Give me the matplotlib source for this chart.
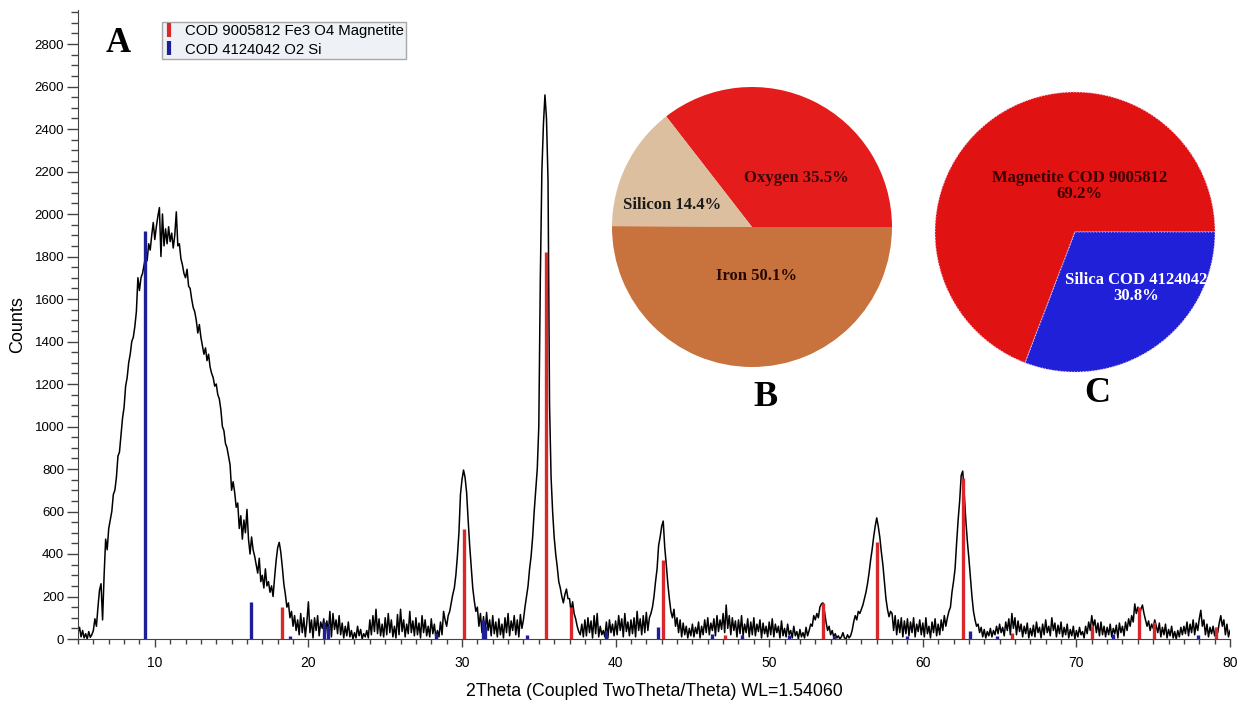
import matplotlib
matplotlib.use("Agg")
import matplotlib.pyplot as plt
from matplotlib.lines import Line2D
from matplotlib.ticker import MultipleLocator
import numpy as np

plt.rcParams["font.family"] = ["Liberation Sans", "DejaVu Sans"]

W, H = 1237, 709

# XRD scan, 2theta 5-80 deg, step 0.1 deg (one row per degree)
SCAN_START, SCAN_STEP = 5.0, 0.1
COUNTS = [
    30, 55, 10, 40, 5, 25, 0, 35, 8, 20,                          # 5
    40, 95, 60, 150, 230, 260, 90, 300, 470, 420,                 # 6
    520, 560, 600, 680, 700, 760, 860, 880, 960, 1040,            # 7
    1090, 1190, 1230, 1300, 1340, 1400, 1420, 1470, 1540, 1700,   # 8
    1640, 1700, 1720, 1760, 1800, 1780, 1860, 1830, 1900, 1960,   # 9
    1880, 1940, 1990, 2030, 1800, 2000, 1850, 1930, 1860, 1940,   # 10
    1870, 1910, 1840, 1900, 2010, 1850, 1860, 1790, 1760, 1720,   # 11
    1700, 1740, 1660, 1650, 1600, 1560, 1540, 1500, 1440, 1480,   # 12
    1420, 1380, 1340, 1370, 1310, 1340, 1280, 1250, 1230, 1190,   # 13
    1200, 1150, 1130, 1080, 1000, 980, 920, 900, 860, 820,        # 14
    700, 740, 690, 620, 640, 520, 580, 470, 560, 500,             # 15
    610, 470, 400, 480, 420, 390, 350, 310, 380, 270,             # 16
    300, 240, 330, 250, 270, 220, 250, 200, 290, 370,             # 17
    430, 455, 410, 340, 260, 210, 150, 170, 100, 130,             # 18
    60, 110, 40, 90, 20, 120, 30, 100, 10, 80,                    # 19
    175, 30, 90, 5, 100, 40, 110, 15, 80, 50,                     # 20
    95, 20, 85, 30, 130, 10, 120, 45, 90, 25,                     # 21
    110, 20, 75, 5, 60, 15, 80, 10, 40, 0,                        # 22
    30, 5, 60, 15, 45, 0, 25, 10, 40, 5,                          # 23
    90, 20, 110, 35, 140, 25, 95, 15, 70, 10,                     # 24
    100, 20, 120, 30, 90, 10, 60, 5, 115, 20,                     # 25
    140, 35, 90, 10, 70, 25, 130, 30, 85, 15,                     # 26
    100, 20, 75, 5, 110, 30, 90, 15, 60, 10,                      # 27
    95, 25, 70, 5, 40, 10, 80, 20, 130, 90,                       # 28
    60, 110, 130, 170, 210, 240, 300, 390, 500, 680,              # 29
    750, 795, 760, 690, 560, 440, 340, 240, 180, 130,             # 30
    150, 60, 120, 30, 105, 20, 125, 40, 90, 15,                   # 31
    110, 25, 80, 10, 95, 20, 70, 5, 100, 30,                      # 32
    120, 15, 85, 40, 110, 20, 90, 10, 115, 50,                    # 33
    90, 150, 200, 250, 330, 390, 480, 600, 700, 800,              # 34
    1000, 1700, 2200, 2420, 2560, 2450, 2160, 1100, 760, 600,     # 35
    480, 400, 340, 270, 240, 200, 170, 210, 235, 190,             # 36
    190, 130, 175, 120, 95, 60, 35, 20, 70, 10,                   # 37
    90, 15, 100, 30, 85, 5, 110, 25, 120, 10,                     # 38
    60, 20, 40, 10, 80, 5, 90, 30, 70, 15,                        # 39
    85, 20, 110, 40, 95, 10, 120, 35, 80, 15,                     # 40
    90, 25, 100, 10, 130, 40, 95, 20, 110, 30,                    # 41
    125, 40, 100, 120, 150, 200, 270, 330, 440, 480,              # 42
    530, 555, 430, 350, 260, 190, 130, 100, 140, 60,              # 43
    100, 30, 90, 10, 75, 20, 60, 5, 50, 15,                       # 44
    70, 10, 55, 25, 80, 5, 60, 20, 90, 30,                        # 45
    100, 20, 75, 40, 95, 15, 110, 35, 90, 45,                     # 46
    120, 30, 160, 50, 110, 20, 100, 40, 85, 10,                   # 47
    90, 25, 110, 15, 70, 30, 95, 10, 80, 20,                      # 48
    100, 15, 70, 35, 90, 5, 75, 25, 60, 10,                       # 49
    80, 20, 95, 10, 70, 30, 60, 5, 85, 15,                        # 50
    50, 10, 70, 20, 40, 5, 60, 15, 35, 0,                         # 51
    45, 10, 30, 5, 55, 15, 40, 70, 60, 110,                       # 52
    90, 120, 100, 150, 165, 170, 130, 80, 40, 60,                 # 53
    20, 40, 10, 25, 5, 15, 0, 10, 30, 5,                          # 54
    0, 20, 5, 15, 40, 80, 110, 90, 130, 120,                      # 55
    140, 160, 190, 220, 260, 310, 370, 420, 480, 530,             # 56
    570, 530, 480, 410, 350, 270, 190, 140, 105, 130,             # 57
    120, 40, 110, 20, 90, 30, 100, 10, 85, 25,                    # 58
    95, 15, 80, 30, 100, 10, 70, 35, 90, 20,                      # 59
    75, 10, 100, 25, 60, 5, 80, 30, 95, 15,                       # 60
    70, 20, 90, 40, 110, 60, 100, 130, 150, 220,                  # 61
    270, 330, 450, 560, 650, 770, 790, 680, 560, 460,             # 62
    380, 290, 200, 130, 90, 60, 70, 30, 55, 10,                   # 63
    45, 5, 35, 15, 50, 10, 40, 20, 60, 25,                        # 64
    70, 30, 55, 15, 80, 40, 95, 20, 120, 50,                      # 65
    100, 20, 85, 35, 70, 10, 60, 25, 75, 5,                       # 66
    50, 15, 65, 10, 80, 30, 55, 5, 70, 20,                        # 67
    90, 30, 60, 15, 100, 40, 75, 10, 65, 25,                      # 68
    80, 10, 55, 20, 70, 5, 45, 15, 60, 0,                         # 69
    40, 10, 55, 20, 35, 5, 60, 25, 80, 40,                        # 70
    110, 60, 90, 30, 75, 15, 80, 20, 60, 10,                      # 71
    55, 20, 70, 10, 50, 25, 65, 5, 75, 30,                        # 72
    60, 15, 80, 40, 95, 60, 110, 80, 165, 120,                    # 73
    150, 110, 140, 160, 120, 90, 60, 85, 40, 70,                  # 74
    50, 90, 60, 30, 75, 10, 55, 20, 70, 5,                        # 75
    45, 15, 60, 5, 35, 0, 40, 10, 55, 20,                         # 76
    60, 25, 80, 15, 70, 30, 90, 20, 75, 40,                       # 77
    95, 135, 60, 90, 20, 70, 10, 55, 25, 60,                      # 78
    15, 50, 30, 75, 110, 60, 90, 20, 70, 10,                      # 79
    40,                                                           # 80
]

# reference patterns (stick positions and intensities)
MAGNETITE_POS = [18.3, 30.1, 35.45, 37.1, 43.1, 47.1, 53.5, 57.0, 62.6, 65.8, 71.0, 74.05, 75.05, 79.1]
MAGNETITE_INT = [152, 518, 1823, 152, 372, 20, 171, 458, 760, 30, 60, 152, 81, 58]
SILICA_POS = [9.38, 16.28, 18.8, 21.0, 21.25, 28.3, 31.35, 31.5, 34.25, 39.4, 42.75,
              46.3, 48.2, 51.3, 54.2, 59.0, 63.1, 64.8, 72.4, 77.9]
SILICA_INT = [1921, 176, 15, 80, 60, 30, 89, 60, 20, 40, 55,
              25, 20, 20, 15, 15, 40, 15, 25, 20]

LEGEND_LABELS = ["COD 9005812 Fe3 O4 Magnetite", "COD 4124042 O2 Si"]

# elemental and phase composition, wt%
ELEMENTS = ["Oxygen", "Silicon", "Iron"]
ELEMENT_PCT = [35.5, 14.4, 50.1]
PHASES = ["Magnetite COD 9005812", "Silica COD 4124042"]
PHASE_PCT = [69.2, 30.8]

RED_STICK, BLUE_STICK = "#d8282c", "#1e1e96"

fig = plt.figure(figsize=(W / 100, H / 100), dpi=100)

# --- A: diffractogram ---
ax = fig.add_axes([78 / W, 1 - 639 / H, (1230 - 78) / W, (639 - 10) / H])
two_theta = SCAN_START + SCAN_STEP * np.arange(len(COUNTS))
ax.plot(two_theta, COUNTS, color="black", lw=1.1, zorder=2)
ax.vlines(MAGNETITE_POS, 0, MAGNETITE_INT, color=RED_STICK, lw=2.4, zorder=3)
ax.vlines(SILICA_POS, 0, SILICA_INT, color=BLUE_STICK, lw=2.4, zorder=3)

ax.set_xlim(5, 80)
ax.set_ylim(0, 2960)
ax.set_yticks(range(0, 2801, 200))
ax.yaxis.set_minor_locator(MultipleLocator(50))
ax.xaxis.set_major_locator(MultipleLocator(10))
ax.xaxis.set_minor_locator(MultipleLocator(1))
for side in ("top", "right"):
    ax.spines[side].set_visible(False)
for side in ("left", "bottom"):
    ax.spines[side].set_color("#444444")
ax.tick_params(axis="y", which="major", length=8, width=1, color="#444444", labelsize=9.5, pad=2)
ax.tick_params(axis="y", which="minor", length=5, width=1, color="#444444")
ax.tick_params(axis="x", which="major", length=6, width=1, color="#444444", labelsize=10, pad=6)
ax.tick_params(axis="x", which="minor", length=3.5, width=1, color="#444444")

ax.set_xlabel("2Theta (Coupled TwoTheta/Theta) WL=1.54060", fontsize=12.8)
ax.xaxis.set_label_coords(0.5, -0.084)
ax.xaxis.label.set_verticalalignment("center")
ax.set_ylabel("Counts", fontsize=13)
ax.yaxis.set_label_coords(-0.052, 0.5)
ax.yaxis.label.set_verticalalignment("center")

handles = [Line2D([], [], color=c, marker="|", linestyle="None", markersize=10, markeredgewidth=3)
           for c in (RED_STICK, BLUE_STICK)]
leg = ax.legend(handles, LEGEND_LABELS, loc="upper left", bbox_to_anchor=(162 / W, 1 - 22 / H),
                bbox_transform=fig.transFigure, borderaxespad=0, fancybox=False, framealpha=1,
                fontsize=10.7, handlelength=0.6, handletextpad=0.8, labelspacing=0.3,
                borderpad=0.15, frameon=True)
leg.get_frame().set_facecolor("#eef1f6")
leg.get_frame().set_edgecolor("#a8a8a8")
leg.get_frame().set_linewidth(1)

serif_bold = dict(family="Liberation Serif", weight="bold")
fig.text(118 / W, 1 - 43 / H, "A", fontsize=25, ha="center", va="center", **serif_bold)

# --- B: elemental composition ---
R = 140
axb = fig.add_axes([(752 - R) / W, 1 - (227 + R) / H, 2 * R / W, 2 * R / H])
axb.pie(ELEMENT_PCT, colors=["#e51c1c", "#dbbf9e", "#c8723e"], startangle=0,
        counterclock=True, radius=1, wedgeprops=dict(linewidth=0))
axb.set_xlim(-1, 1)
axb.set_ylim(-1, 1)
b_pos = [(0.32, 0.35), (-0.57, 0.16), (0.03, -0.35)]
b_col = ["#3a0808", "#1a1a1a", "#2a0800"]
for name, pct, (tx, ty), c in zip(ELEMENTS, ELEMENT_PCT, b_pos, b_col):
    axb.text(tx, ty, f"{name} {pct}%", ha="center", va="center", fontsize=12, color=c, **serif_bold)
fig.text(765 / W, 1 - 397 / H, "B", fontsize=26, ha="center", va="center", **serif_bold)

# --- C: phase composition ---
axc = fig.add_axes([(1075 - R) / W, 1 - (232 + R) / H, 2 * R / W, 2 * R / H])
axc.pie(PHASE_PCT, colors=["#e01212", "#2020d8"], startangle=0, counterclock=True, radius=1,
        wedgeprops=dict(linewidth=0.8, edgecolor="#f0d0f0", linestyle=":"))
axc.set_xlim(-1, 1)
axc.set_ylim(-1, 1)
c_pos = [(0.03, 0.33), (0.44, -0.40)]
c_col = ["#3a0000", "white"]
for name, pct, (tx, ty), c in zip(PHASES, PHASE_PCT, c_pos, c_col):
    axc.text(tx, ty, f"{name}\n{pct}%", ha="center", va="center", fontsize=12, color=c,
             linespacing=1.0, **serif_bold)
fig.text(1097 / W, 1 - 393 / H, "C", fontsize=26, ha="center", va="center", **serif_bold)

fig.savefig("out.png", dpi=100)
